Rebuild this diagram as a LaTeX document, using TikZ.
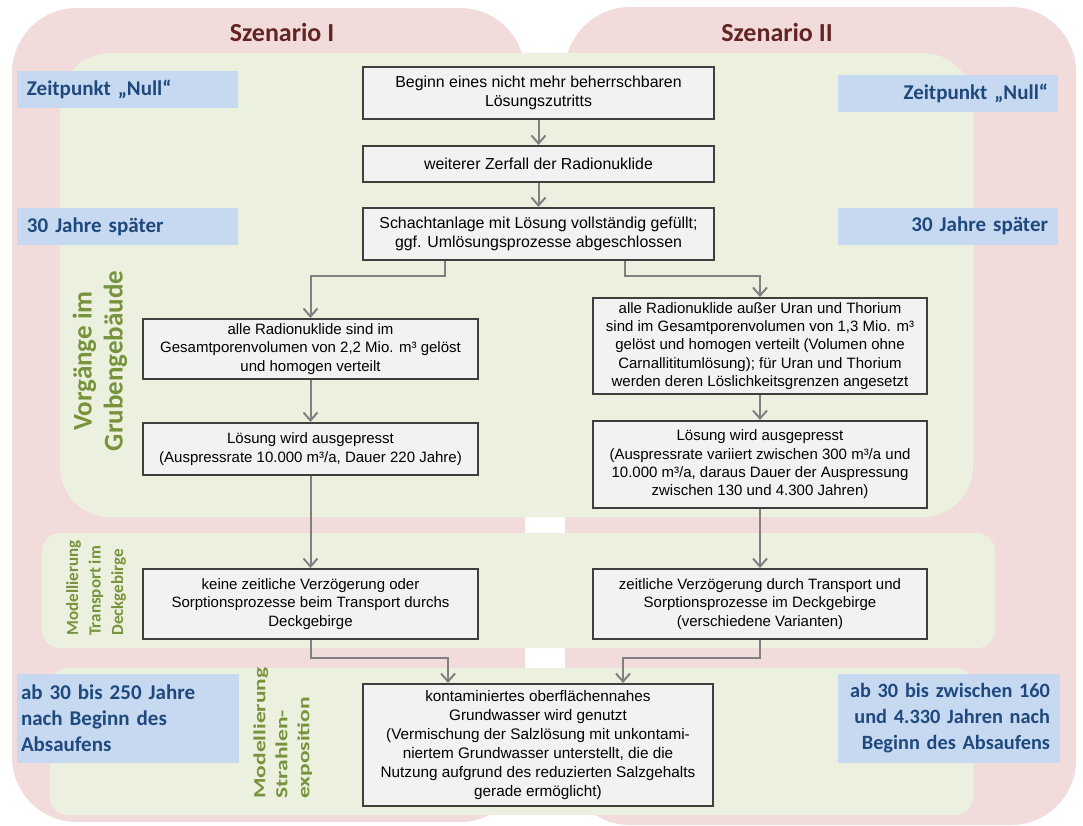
\documentclass[tikz,border=0pt]{standalone}
\usepackage{fontspec}
\usepackage{graphicx}
\setmainfont{Liberation Sans}
\newfontfamily\calibri{Carlito}
\usetikzlibrary{calc,positioning,arrows.meta}
\definecolor{rosa}{HTML}{F2DCDB}
\definecolor{gruen}{HTML}{EBF1DE}
\definecolor{zeitfill}{HTML}{C6D9F1}
\definecolor{zeittext}{HTML}{1F497D}
\definecolor{headred}{HTML}{632523}
\definecolor{phasegreen}{HTML}{77933C}
\definecolor{boxfill}{HTML}{F2F2F2}
\definecolor{boxline}{HTML}{3F3F3F}
\definecolor{arrowgrey}{HTML}{808080}

\begin{document}
\begin{tikzpicture}[x=1pt,y=-1pt,
  flowbox/.style={draw=boxline,line width=2pt,fill=boxfill,align=center,inner sep=2pt,font=\fontsize{15}{18.3}\selectfont},
  topbox/.style={flowbox,minimum width=351pt,font=\fontsize{15.9}{18.5}\selectfont},
  flowarrow/.style={draw=arrowgrey,line width=2pt,-{Straight Barb[length=8pt,width=14pt]}},
  zeitbox/.style={fill=zeitfill,text=zeittext,inner ysep=0pt,font=\calibri\bfseries\fontsize{21}{26}\selectfont},
  phase/.style={text=phasegreen,rotate=90}]
\useasboundingbox (0,0) rectangle (1083,825);
% Szenarien
\fill[rosa,rounded corners=65pt] (12,8) rectangle (525,822);
\fill[rosa,rounded corners=65pt] (565,7) rectangle (1076,825);
% Phasen
\fill[gruen,rounded corners=50pt] (60,53) rectangle (973,517);
\fill[gruen,rounded corners=18pt] (42,533) rectangle (995,648);
\fill[gruen,rounded corners=18pt] (50,668) rectangle (973,815);
\node[text=headred,font=\calibri\bfseries\fontsize{26}{30}\selectfont] (szen1) at (282,32) {Szenario I};
\node[text=headred,font=\calibri\bfseries\fontsize{26}{30}\selectfont] (szen2) at (777,32) {Szenario II};
% Zeitpunkte
\node[zeitbox,text width=201pt,inner xsep=10pt,minimum height=37pt,align=left] (null1) at (127.5,89.5) {Zeitpunkt „Null“};
\node[zeitbox,text width=201pt,inner xsep=10pt,minimum height=37pt,align=left] (spaet1) at (127.5,226.5) {30 Jahre später};
\node[zeitbox,text width=200pt,inner xsep=10pt,minimum height=37pt,align=right] (null2) at (948,93) {Zeitpunkt „Null“};
\node[zeitbox,text width=200pt,inner xsep=10pt,minimum height=37pt,align=right] (spaet2) at (948,226) {30 Jahre später};
\node[zeitbox,text width=214pt,inner xsep=4pt,minimum height=89pt,align=left] (ab1) at (128,718.5) {ab 30 bis 250 Jahre\\nach Beginn des\\Absaufens};
\node[zeitbox,text width=202pt,inner xsep=10pt,minimum height=89pt,align=right,font=\calibri\bfseries\fontsize{20.3}{26}\selectfont] (ab2) at (949,718.5) {ab 30 bis zwischen 160\\und 4.330 Jahren nach\\Beginn des Absaufens};
% Beschriftung der Phasen
\node[phase,align=center,font=\calibri\bfseries\fontsize{27}{31}\selectfont] (vorgaenge) at (100,361) {Vorgänge im\\Grubengebäude};
\node[phase,align=left,font=\calibri\bfseries\fontsize{17}{22.5}\selectfont] (transport) at (96,588) {Modellierung\\Transport im\\Deckgebirge};
\node[phase,font=\calibri\bfseries\fontsize{17}{22}\selectfont] (strahlen) at (283,733) {\scalebox{1.38}[1]{\begin{tabular}{@{}l@{}}Modellierung\\Strahlen-\\exposition\end{tabular}}};
% Ablauf
\node[topbox,minimum height=52pt] (b1) at (538.5,93) {Beginn eines nicht mehr beherrschbaren\\Lösungszutritts};
\node[topbox,minimum height=36pt] (b2) at (538.5,164) {weiterer Zerfall der Radionuklide};
\node[topbox,minimum height=52pt] (b3) at (538.5,234) {Schachtanlage mit Lösung vollständig gefüllt;\\ggf. Umlösungsprozesse abgeschlossen};
\node[flowbox,minimum width=335pt,minimum height=60pt] (b4) at (310.5,349) {alle Radionuklide sind im\\Gesamtporenvolumen von 2,2 Mio. m³ gelöst\\und homogen verteilt};
\node[flowbox,minimum width=335pt,minimum height=52pt] (b5) at (310.5,449) {Lösung wird ausgepresst\\(Auspressrate 10.000 m³/a, Dauer 220 Jahre)};
\node[flowbox,minimum width=334pt,minimum height=96pt] (b6) at (760,346) {alle Radionuklide außer Uran und Thorium\\sind im Gesamtporenvolumen von 1,3 Mio. m³\\gelöst und homogen verteilt (Volumen ohne\\Carnallititumlösung); für Uran und Thorium\\werden deren Löslichkeitsgrenzen angesetzt};
\node[flowbox,minimum width=334pt,minimum height=87pt] (b7) at (760,464.5) {Lösung wird ausgepresst\\(Auspressrate variiert zwischen 300 m³/a und\\10.000 m³/a, daraus Dauer der Auspressung\\zwischen 130 und 4.300 Jahren)};
\node[flowbox,minimum width=335pt,minimum height=70pt] (b8) at (310.5,604) {keine zeitliche Verzögerung oder\\Sorptionsprozesse beim Transport durchs\\Deckgebirge};
\node[flowbox,minimum width=334pt,minimum height=70pt] (b9) at (760,604) {zeitliche Verzögerung durch Transport und\\Sorptionsprozesse im Deckgebirge\\(verschiedene Varianten)};
\node[flowbox,minimum width=350pt,minimum height=122pt,font=\fontsize{15.3}{19}\selectfont] (b10) at (538,745) {kontaminiertes oberflächennahes\\Grundwasser wird genutzt\\(Vermischung der Salzlösung mit unkontami-\\niertem Grundwasser unterstellt, die die\\Nutzung aufgrund des reduzierten Salzgehalts\\gerade ermöglicht)};
% Pfeile
\draw[flowarrow] (b1) -- (b2);
\draw[flowarrow] (b2) -- (b3);
\draw[flowarrow] ([xshift=-94pt]b3.south) -- ++(0,15) -| (b4.north);
\draw[flowarrow] ([xshift=86pt]b3.south) -- ++(0,15) -| (b6.north);
\draw[flowarrow] (b4) -- (b5);
\draw[flowarrow] (b6) -- (b7);
\draw[flowarrow] (b5) -- (b8);
\draw[flowarrow] (b7) -- (b9);
\draw[flowarrow] (b8.south) -- ++(0,18) -| ([xshift=-90pt]b10.north);
\draw[flowarrow] (b9.south) -- ++(0,18) -| ([xshift=85pt]b10.north);
\end{tikzpicture}
\end{document}
